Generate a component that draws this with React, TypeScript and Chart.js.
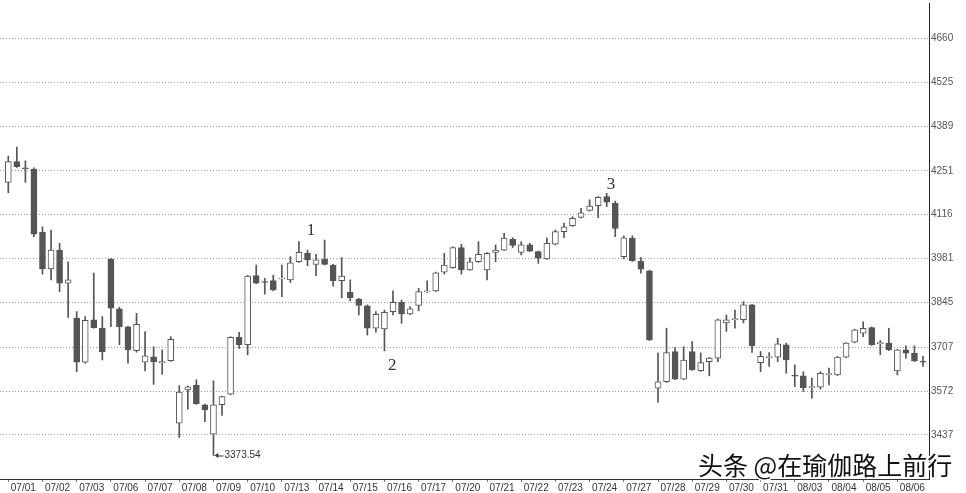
import React, { useEffect, useRef } from 'react';
import { Chart, registerables } from 'chart.js';

Chart.register(...registerables);

const dates = ['07/01','07/02','07/03','07/06','07/07','07/08','07/09','07/10','07/13','07/14','07/15','07/16','07/17','07/20','07/21','07/22','07/23','07/24','07/27','07/28','07/29','07/30','07/31','08/03','08/04','08/05','08/06'];
const barsPerDay = 4;

const opens = [
  4216, 4280, 4260, 4257, 4062, 3949, 4007, 3905, 3797, 3661, 3792, 3766,
  3979, 3826, 3770, 3697, 3661, 3678, 3659, 3666, 3473, 3576, 3591, 3530,
  3439, 3530, 3563, 3738, 3715, 3928, 3910, 3913, 3918, 3915, 3971, 3997,
  3963, 3979, 3961, 3913, 3877, 3856, 3835, 3766, 3764, 3817, 3846, 3810,
  3836, 3878, 3881, 3939, 3953, 4015, 3946, 3971, 3946, 4000, 4007, 4041,
  4000, 4023, 4002, 3980, 4025, 4064, 4082, 4108, 4129, 4144, 4172, 4151,
  3987, 4044, 3973, 3943, 3581, 3601, 3694, 3609, 3694, 3635, 3663, 3674,
  3782, 3793, 3792, 3838, 3660, 3676, 3677, 3715, 3621, 3619, 3584, 3584,
  3624, 3622, 3677, 3723, 3751, 3768, 3719, 3720, 3634, 3699, 3689, 3664,
];
const highs = [
  4297, 4325, 4282, 4261, 4079, 4069, 4028, 3971, 3817, 3802, 3936, 3802,
  3981, 3831, 3772, 3812, 3756, 3709, 3699, 3740, 3589, 3588, 3607, 3532,
  3604, 3557, 3740, 3753, 3929, 3961, 3920, 3930, 3961, 3987, 4033, 4007,
  3994, 4038, 3963, 3984, 3915, 3858, 3838, 3817, 3822, 3881, 3853, 3833,
  3889, 3912, 3939, 3997, 4017, 4025, 3983, 4033, 3999, 4023, 4059, 4045,
  4033, 4028, 4004, 4045, 4069, 4090, 4110, 4136, 4162, 4172, 4182, 4158,
  4051, 4051, 3984, 3945, 3689, 3766, 3706, 3709, 3725, 3690, 3676, 3794,
  3807, 3822, 3848, 3840, 3694, 3691, 3735, 3720, 3653, 3632, 3612, 3632,
  3643, 3679, 3722, 3763, 3786, 3770, 3728, 3766, 3701, 3712, 3712, 3679,
];
const lows = [
  4184, 4262, 4216, 4048, 3933, 3915, 3879, 3799, 3632, 3658, 3766, 3668,
  3771, 3715, 3658, 3692, 3634, 3593, 3624, 3664, 3429, 3516, 3531, 3478,
  3373.54, 3497, 3561, 3704, 3684, 3903, 3871, 3881, 3863, 3907, 3969, 3959,
  3928, 3961, 3896, 3860, 3850, 3807, 3745, 3754, 3696, 3807, 3781, 3808,
  3820, 3876, 3879, 3933, 3951, 3933, 3944, 3969, 3915, 3971, 4005, 4015,
  3992, 4002, 3966, 3978, 4023, 4045, 4080, 4106, 4127, 4107, 4141, 4048,
  3980, 3972, 3936, 3728, 3538, 3599, 3607, 3607, 3636, 3633, 3619, 3663,
  3756, 3766, 3782, 3691, 3632, 3648, 3663, 3627, 3586, 3571, 3550, 3578,
  3591, 3620, 3675, 3721, 3740, 3713, 3684, 3697, 3622, 3674, 3663, 3648,
];
const closes = [
  4280, 4264, 4259, 4056, 3949, 4007, 3905, 3915, 3661, 3790, 3768, 3694,
  3828, 3771, 3699, 3778, 3681, 3662, 3663, 3732, 3569, 3585, 3533, 3514,
  3530, 3555, 3738, 3715, 3927, 3905, 3907, 3884, 3921, 3968, 4000, 3977,
  3977, 3963, 3913, 3927, 3860, 3836, 3766, 3809, 3815, 3846, 3810, 3826,
  3879, 3881, 3937, 3961, 4015, 3946, 3971, 3994, 3997, 4007, 4044, 4021,
  4023, 4004, 3982, 4028, 4064, 4079, 4105, 4122, 4143, 4170, 4155, 4074,
  4045, 3974, 3948, 3730, 3601, 3691, 3609, 3668, 3638, 3660, 3674, 3792,
  3792, 3795, 3838, 3712, 3679, 3678, 3718, 3668, 3619, 3583, 3585, 3627,
  3625, 3677, 3720, 3761, 3766, 3715, 3721, 3699, 3699, 3689, 3665, 3662,
];

const priceTicks = [3437, 3572, 3707, 3845, 3981, 4116, 4251, 4389, 4525, 4660];

const waveLabels = ['1', '2', '3'];
const waveBars = [35.4, 44.9, 70.5];
const waveLevels = [4066, 3650, 4209];

const watermark = '头条 @在瑜伽路上前行';

const SANS = "'Liberation Sans', Arial, sans-serif";
const DARK = '#555555';

export default function App() {
  const ref = useRef<HTMLCanvasElement>(null);

  useEffect(() => {
    document.body.style.margin = '0';
    const n = opens.length;
    const idx = Array.from({ length: n }, (_, i) => i);
    const wickData = idx.map((i) => ({ x: i, y: [lows[i], highs[i]] }));
    const bodyData = idx.map((i) => {
      let lo = Math.min(opens[i], closes[i]);
      let hi = Math.max(opens[i], closes[i]);
      if (hi - lo < 3) {
        const m = (hi + lo) / 2;
        lo = m - 1.5;
        hi = m + 1.5;
      }
      return { x: i, y: [lo, hi] };
    });
    const up = idx.map((i) => closes[i] >= opens[i]);

    let minIdx = 0;
    lows.forEach((v, i) => { if (v < lows[minIdx]) minIdx = i; });

    const annot = {
      id: 'annot',
      afterDatasetsDraw(chart: any) {
        const { ctx, scales } = chart;
        const xs = scales.x, ys = scales.y;
        ctx.save();
        ctx.fillStyle = '#333';
        ctx.font = "17px 'Liberation Serif', 'Times New Roman', serif";
        ctx.textAlign = 'center';
        ctx.textBaseline = 'middle';
        waveLabels.forEach((t, k) => {
          ctx.fillText(t, xs.getPixelForValue(waveBars[k]), ys.getPixelForValue(waveLevels[k]));
        });
        // min low marker
        const px = xs.getPixelForValue(minIdx);
        const py = ys.getPixelForValue(lows[minIdx]);
        ctx.fillStyle = '#333';
        ctx.strokeStyle = '#333';
        ctx.lineWidth = 1;
        ctx.beginPath();
        ctx.moveTo(px + 1, py);
        ctx.lineTo(px + 5, py - 2.5);
        ctx.lineTo(px + 5, py + 2.5);
        ctx.closePath();
        ctx.fill();
        ctx.beginPath();
        ctx.moveTo(px + 5, py + 0.5);
        ctx.lineTo(px + 10, py + 0.5);
        ctx.stroke();
        ctx.font = `10px ${SANS}`;
        ctx.textAlign = 'left';
        ctx.fillText(lows[minIdx].toFixed(2), px + 11, py);
        ctx.restore();
      },
      afterDraw(chart: any) {
        const { ctx } = chart;
        ctx.save();
        ctx.font = "25px 'Noto Sans CJK SC', sans-serif";
        ctx.textAlign = 'left';
        ctx.textBaseline = 'middle';
        ctx.lineJoin = 'round';
        ctx.lineWidth = 3;
        ctx.strokeStyle = '#ffffff';
        ctx.strokeText(watermark, 698, 465);
        ctx.fillStyle = '#111';
        ctx.fillText(watermark, 698, 465);
        ctx.restore();
      },
    };

    const chart = new Chart(ref.current as HTMLCanvasElement, {
      type: 'bar',
      data: {
        datasets: [
          {
            data: wickData as any,
            backgroundColor: DARK,
            borderWidth: 0,
            barThickness: 1,
            grouped: false,
            order: 2,
          } as any,
          {
            data: bodyData as any,
            backgroundColor: up.map((u) => (u ? '#ffffff' : DARK)),
            borderColor: DARK,
            borderWidth: 1,
            borderSkipped: false,
            barThickness: 6,
            grouped: false,
            order: 1,
          } as any,
        ],
      },
      options: {
        animation: false,
        responsive: false,
        maintainAspectRatio: false,
        layout: { padding: { top: 3, left: 0, right: 0, bottom: 0 } },
        plugins: { legend: { display: false }, tooltip: { enabled: false } },
        scales: {
          x: {
            type: 'linear',
            min: -0.97,
            max: 107.7,
            offset: false,
            afterBuildTicks: (s: any) => {
              s.ticks = dates.map((_, k) => ({ value: k * barsPerDay }));
            },
            afterFit: (s: any) => {
              s.height = 14;
              s.paddingLeft = 0;
              s.paddingRight = 0;
            },
            ticks: {
              autoSkip: false,
              maxRotation: 0,
              minRotation: 0,
              labelOffset: 15,
              padding: 0,
              color: '#333',
              font: { family: SANS, size: 10 },
              callback: (_v: any, i: number) => dates[i],
            },
            grid: { drawOnChartArea: false, drawTicks: true, tickLength: 3, color: '#777', offset: false },
            border: { display: true, color: '#333', width: 1 },
          } as any,
          y: {
            type: 'linear',
            position: 'right',
            min: 3301,
            max: 4769,
            beginAtZero: false,
            afterBuildTicks: (s: any) => {
              s.ticks = priceTicks.map((v) => ({ value: v }));
            },
            afterFit: (s: any) => {
              s.width = 37;
              s.paddingTop = 0;
              s.paddingBottom = 0;
            },
            ticks: {
              autoSkip: false,
              padding: 2,
              color: '#555',
              font: { family: SANS, size: 10 },
              callback: (v: any) => String(v),
            },
            grid: { drawTicks: false, color: '#9a9a9a', lineWidth: 1 },
            border: { display: true, color: '#222', width: 1, dash: [1, 2] },
          } as any,
        },
      },
      plugins: [annot],
    });
    return () => chart.destroy();
  }, []);

  return (
    <div style={{ width: 966, height: 493 }}>
      <canvas ref={ref} width={966} height={493} style={{ display: 'block' }} />
    </div>
  );
}
